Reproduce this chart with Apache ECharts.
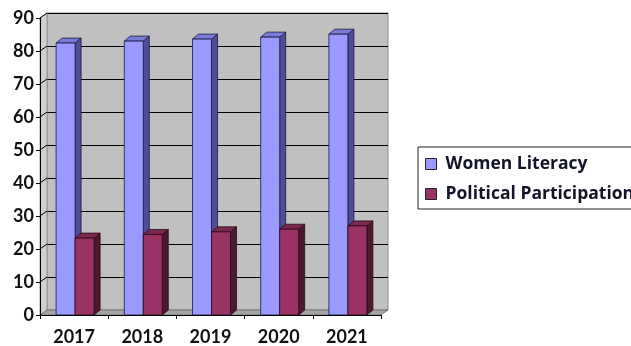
<!DOCTYPE html>
<html><head><meta charset="utf-8">
<script src="https://cdn.jsdelivr.net/npm/echarts@6/dist/echarts.min.js"></script>
<style>html,body{margin:0;padding:0;background:#fff;}#c{width:631px;height:346px;}</style>
</head><body><div id="c"></div>
<script>
const categories = ['2017', '2018', '2019', '2020', '2021'];
const womenLiteracy = [82.4, 83.0, 83.6, 84.2, 85.1];
const politicalParticipation = [23.3, 24.4, 25.2, 26.0, 27.0];
const yMin = 0, yMax = 90, yStep = 10;
const seriesNames = ['Women Literacy', 'Political Participation'];

const FONT = 'Lato';
const LEGEND_FONT = 'Open Sans';
const DX = 7, DY = 5;     // wall depth
const BDX = 6, BDY = 5;   // bar depth
const BW = 19;            // bar front width

function barRenderer(offset, front, side, top, stroke) {
  return function (params, api) {
    const x = api.value(0), v = api.value(1);
    const p = api.coord([x, v]);
    const b = api.coord([x, 0]);
    const l = p[0] + offset, r = l + BW, t = p[1], bt = b[1];
    return { type: 'group', children: [
      { type: 'polygon', shape: { points: [[r, bt], [r + BDX, bt - BDY], [r + BDX, t - BDY], [r, t]] }, style: { fill: side, stroke: stroke, lineWidth: 0.8 } },
      { type: 'polygon', shape: { points: [[l, t], [l + BDX, t - BDY], [r + BDX, t - BDY], [r, t]] }, style: { fill: top, stroke: stroke, lineWidth: 0.8 } },
      { type: 'rect', shape: { x: l, y: t, width: BW, height: bt - t }, style: { fill: front, stroke: stroke, lineWidth: 0.8 } }
    ]};
  };
}

function frameRenderer(params, api) {
  const cs = params.coordSys;
  const L = cs.x, R = cs.x + cs.width, T = cs.y, B = cs.y + cs.height;
  const children = [
    { type: 'polygon', shape: { points: [[L, T], [L + DX, T - DY], [L + DX, B - DY], [L, B]] }, style: { fill: '#cfcfcf', stroke: '#8a8a8a', lineWidth: 0.8 } },
    { type: 'polygon', shape: { points: [[L, B], [R, B], [R + DX, B - DY], [L + DX, B - DY]] }, style: { fill: '#a4a4a4', stroke: '#6a6a6a', lineWidth: 0.8 } }
  ];
  for (let v = yMin + yStep; v <= yMax; v += yStep) {
    const y = api.coord([0, v])[1];
    children.push({ type: 'line', shape: { x1: L, y1: y, x2: L + DX, y2: y - DY }, style: { stroke: '#000', lineWidth: 1 } });
  }
  return { type: 'group', children: children };
}

const chart = echarts.init(document.getElementById('c'), null, { renderer: 'canvas' });
chart.setOption({
  animation: false,
  grid: [
    { left: 40, top: 18, width: 341, height: 297 },
    { left: 47, top: 13, width: 341, height: 297, show: true, backgroundColor: '#c0c0c0', borderColor: '#8a8a8a', borderWidth: 1 }
  ],
  xAxis: [
    { type: 'category', gridIndex: 0, data: categories, z: 5,
      axisLine: { lineStyle: { color: '#000', width: 1 } },
      axisTick: { show: true, length: 4, lineStyle: { color: '#000' } },
      axisLabel: { margin: 13, fontFamily: FONT, fontWeight: 'bold', fontSize: 18, color: '#111' } },
    { type: 'category', gridIndex: 1, data: categories, show: false }
  ],
  yAxis: [
    { type: 'value', gridIndex: 0, min: yMin, max: yMax, interval: yStep, z: 5,
      axisLine: { show: true, lineStyle: { color: '#000', width: 1 } },
      axisTick: { show: true, length: 4, lineStyle: { color: '#000' } },
      splitLine: { show: false },
      axisLabel: { margin: 6, fontFamily: FONT, fontWeight: 'bold', fontSize: 18, color: '#111' } },
    { type: 'value', gridIndex: 1, min: yMin, max: yMax, interval: yStep,
      axisLine: { show: false }, axisTick: { show: false }, axisLabel: { show: false },
      splitLine: { show: true, lineStyle: { color: '#000', width: 1 } } }
  ],
  legend: {
    orient: 'vertical', left: 418, top: 147,
    backgroundColor: '#fff', borderColor: '#222', borderWidth: 1,
    padding: [7, 60, 5, 7], itemWidth: 11, itemHeight: 11, itemGap: 10,
    icon: 'rect',
    textStyle: { fontFamily: LEGEND_FONT, fontWeight: 'bold', fontSize: 17.5, lineHeight: 20, color: '#141428', padding: [0, 0, 0, 4] },
    data: [
      { name: seriesNames[0], itemStyle: { color: '#9999ff', borderColor: '#222', borderWidth: 1 } },
      { name: seriesNames[1], itemStyle: { color: '#993366', borderColor: '#222', borderWidth: 1 } }
    ]
  },
  series: [
    { type: 'custom', name: 'frame', xAxisIndex: 0, yAxisIndex: 0, silent: true, z: 1,
      data: [[0, 0]], renderItem: frameRenderer },
    { type: 'custom', name: seriesNames[0], xAxisIndex: 0, yAxisIndex: 0, z: 3,
      itemStyle: { color: '#9999ff' },
      data: categories.map((c, i) => [i, womenLiteracy[i]]),
      encode: { x: 0, y: 1 },
      renderItem: barRenderer(-18, '#9999ff', '#4e4e96', '#7a7ad8', '#1a1a40') },
    { type: 'custom', name: seriesNames[1], xAxisIndex: 0, yAxisIndex: 0, z: 4,
      itemStyle: { color: '#993366' },
      data: categories.map((c, i) => [i, politicalParticipation[i]]),
      encode: { x: 0, y: 1 },
      renderItem: barRenderer(1, '#993366', '#4a1a30', '#7a2850', '#2a0a18') }
  ]
});
</script></body></html>
